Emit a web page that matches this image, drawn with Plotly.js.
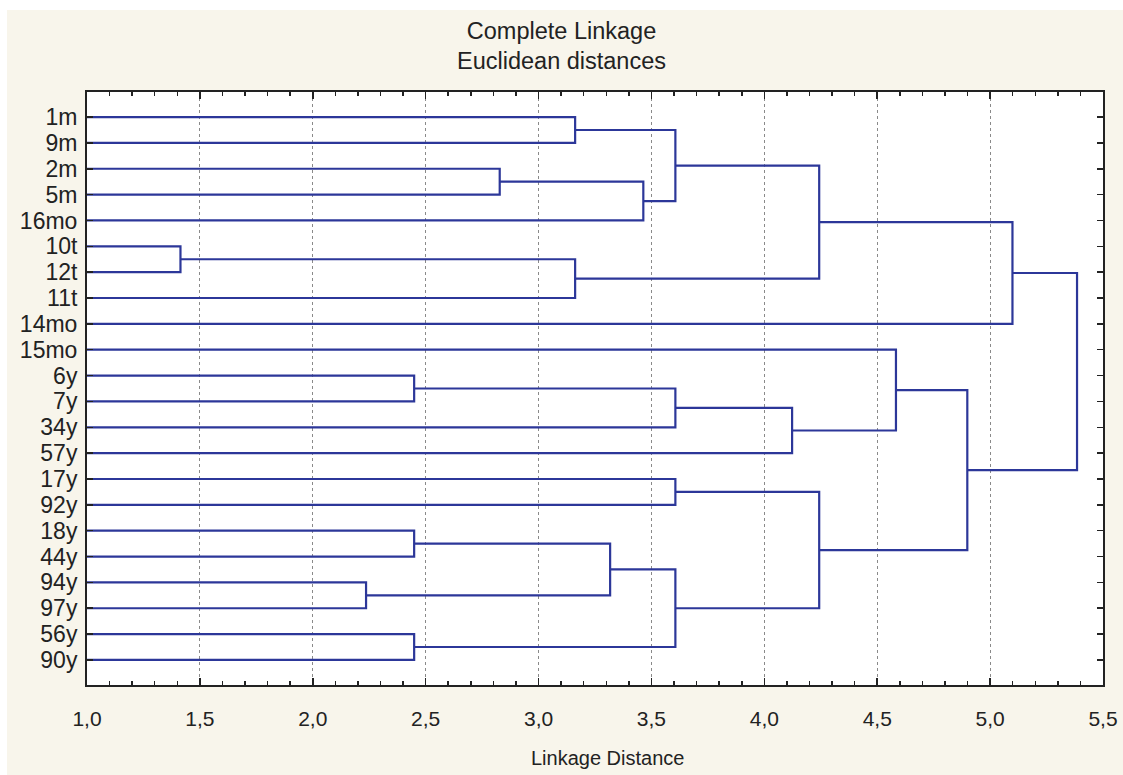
<!DOCTYPE html>
<html>
<head>
<meta charset="utf-8">
<script src="https://cdn.plot.ly/plotly-3.0.1.min.js"></script>
<style>html,body{margin:0;padding:0;background:#fff;}#chart{width:1123px;height:775px;}</style>
</head>
<body>
<div id="chart"></div>
<script>
// Leaves, top to bottom
const leaves = ["1m","9m","2m","5m","16mo","10t","12t","11t","14mo","15mo","6y","7y","34y","57y","17y","92y","18y","44y","94y","97y","56y","90y"];
// Merges: ids < 22 are leaves, id 22+k is the cluster formed by merge k
const mergeLeft   = [5, 18, 10, 16, 20, 2, 0, 22, 25, 27, 28, 24, 14, 30, 33, 32, 34, 9, 39, 37, 41];
const mergeRight  = [6, 19, 11, 17, 21, 3, 1, 7, 23, 4, 31, 12, 15, 26, 13, 29, 35, 36, 38, 8, 40];
const mergeHeight = [1.414, 2.236, 2.449, 2.449, 2.449, 2.828, 3.162, 3.162, 3.317, 3.464, 3.606, 3.606, 3.606, 3.606, 4.123, 4.243, 4.243, 4.583, 4.899, 5.099, 5.385];
// Axis
const xTicks = [1.0, 1.5, 2.0, 2.5, 3.0, 3.5, 4.0, 4.5, 5.0, 5.5];

const xMin = xTicks[0], xMax = xTicks[xTicks.length - 1];
const n = leaves.length;
const pos = [], hgt = [];
for (let i = 0; i < n; i++) { pos.push(i); hgt.push(xMin); }
const xs = [], ys = [];
for (let k = 0; k < mergeHeight.length; k++) {
  const a = mergeLeft[k], b = mergeRight[k], h = mergeHeight[k];
  xs.push(hgt[a], h, h, hgt[b], null);
  ys.push(pos[a], pos[a], pos[b], pos[b], null);
  pos.push((pos[a] + pos[b]) / 2);
  hgt.push(h);
}

const font = "Liberation Sans, Arial, sans-serif";
const trace = {
  type: "scatter", mode: "lines", x: xs, y: ys,
  line: {color: "#2c3799", width: 2.2}, hoverinfo: "skip", showlegend: false
};
const layout = {
  width: 1123, height: 775,
  margin: {l: 87, r: 20, t: 92, b: 90},
  paper_bgcolor: "#f8f5eb", plot_bgcolor: "#ffffff",
  separators: ", ",
  font: {family: font, color: "#222"},
  title: {text: "Complete Linkage<br>Euclidean distances", font: {size: 23.5, color: "#222", family: font},
          x: 0.5, xref: "container", xanchor: "center", y: 0.95, yref: "container", yanchor: "top"},
  xaxis: {
    range: [xMin, xMax], tickvals: xTicks, tickformat: ".1f",
    ticks: "inside", ticklen: 7, tickwidth: 1.5, tickcolor: "#222",
    showline: true, linecolor: "#222", linewidth: 2, mirror: "ticks",
    showgrid: true, gridcolor: "#8a8a8a", griddash: "dot", gridwidth: 1,
    zeroline: false,
    minor: {dtick: 0.1, ticks: "inside", ticklen: 4, tickcolor: "#222", showgrid: false},
    tickfont: {size: 21, color: "#222"}, ticklabelstandoff: 14
  },
  yaxis: {
    range: [n - 1 + 0.97, -0.97], tickvals: leaves.map((_, i) => i), ticktext: leaves,
    ticks: "inside", ticklen: 6, tickwidth: 1.5, tickcolor: "#222",
    showline: true, linecolor: "#222", linewidth: 2, mirror: "ticks",
    showgrid: false, zeroline: false,
    tickfont: {size: 23, color: "#222"}, ticklabelstandoff: 3
  },
  annotations: [
    {text: "Linkage Distance", xref: "paper", yref: "paper", x: (607 - 87) / 1016, y: (685 - 758) / 593,
     xanchor: "center", yanchor: "middle", showarrow: false, font: {size: 20, color: "#222", family: font}}
  ],
  shapes: [
    {type: "rect", xref: "paper", yref: "paper", x0: -0.1, x1: 1.05, y0: (685 - 10) / 593, y1: 1.2,
     fillcolor: "#ffffff", line: {width: 0}, layer: "below"},
    {type: "rect", xref: "paper", yref: "paper", x0: -0.1, x1: (7 - 87) / 1016, y0: -0.2, y1: 1.2,
     fillcolor: "#ffffff", line: {width: 0}, layer: "below"}
  ]
};
Plotly.newPlot("chart", [trace], layout, {displayModeBar: false, staticPlot: true});
</script>
</body>
</html>
